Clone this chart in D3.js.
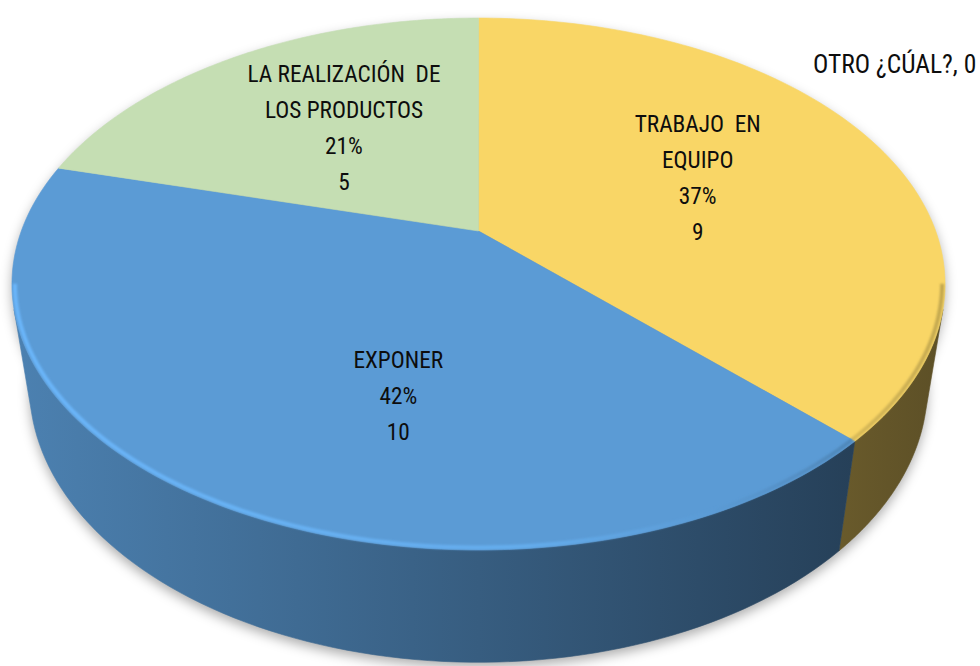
<!DOCTYPE html>
<html><head><meta charset="utf-8">
<script src="https://cdn.jsdelivr.net/npm/d3@7"></script>
<style>body{margin:0;background:#fff;overflow:hidden}</style>
</head><body>
<svg id="chart" width="980" height="666"></svg>
<script>
// ---- data ----
const categories = ["TRABAJO EN EQUIPO", "EXPONER", "LA REALIZACIÓN DE LOS PRODUCTOS", "OTRO ¿CÚAL?"];
const values = [9, 10, 5, 0];
const percentLabels = ["37%", "42%", "21%", "0%"];
const labelLines = [["TRABAJO  EN", "EQUIPO"], ["EXPONER"], ["LA REALIZACIÓN  DE", "LOS PRODUCTOS"], ["OTRO ¿CÚAL?"]];
const colors = ["#F9D666", "#5B9BD5", "#C5DEB3", "#ED7D31"];

// ---- layout (positions / styles) ----
const W = 980, H = 666;
const cx = 478.5, cy = 231;
const sinA = 0.5586, cosA = 0.8294, Dist = 4.162, F = 1902.8, thick = 0.28;
const labelAnchor = [[66.6, 0.545], [195.2, 0.593], [323.9, 0.543], null]; // [deg, radius fraction]
const outsideLabel = {x: 813, y: 73};
const lineH = 36.3, fontSize = 23.3, outsideFontSize = 25.5;
const fontFam = "'Liberation Sans Narrow','Arial Narrow','Roboto Condensed',sans-serif";

const svg = d3.select("#chart");
const defs = svg.append("defs");

function proj(theta, rho, y3) {
  const x3 = rho * Math.sin(theta), z3 = -rho * Math.cos(theta);
  const dep = Dist - y3 * sinA - z3 * cosA;
  const up = y3 * cosA - z3 * sinA;
  return [cx + F * x3 / dep, cy - F * up / dep];
}
const rim = (a0, a1, rho, y3, n) => d3.range(n + 1).map(i => proj(a0 + (a1 - a0) * i / n, rho, y3));
const line = d3.line();
const closed = d3.line().curve(d3.curveLinearClosed);

const data = categories.map((c, i) => ({c, v: values[i], i}));
const arcs = d3.pie().sort(null).value(d => d.v).startAngle(0).endAngle(2 * Math.PI)(data);
const color = d3.scaleOrdinal().domain(categories).range(colors);

// filters
defs.append("filter").attr("id", "shadow").attr("x", "-10%").attr("y", "-10%").attr("width", "120%").attr("height", "130%")
  .append("feGaussianBlur").attr("stdDeviation", 6);
defs.append("filter").attr("id", "soft").attr("x", "-5%").attr("y", "-5%").attr("width", "110%").attr("height", "110%")
  .append("feGaussianBlur").attr("stdDeviation", 1.2);

// shadow
const shadowG = svg.append("g").attr("transform", "translate(0,5)").attr("filter", "url(#shadow)");
shadowG.append("path").attr("d", closed(rim(0, 2 * Math.PI, 1, -thick, 240))).attr("fill", "rgba(0,0,0,0.32)");
shadowG.append("path").attr("d", closed(rim(0, 2 * Math.PI, 1, 0, 240))).attr("fill", "rgba(0,0,0,0.32)");

// walls
const visStart = Math.acos(-1 / (Dist * cosA)), visEnd = 2 * Math.PI - visStart;
arcs.forEach(a => {
  const lo = Math.max(a.startAngle, visStart), hi = Math.min(a.endAngle, visEnd);
  if (hi <= lo) return;
  const base = d3.rgb(color(a.data.c));
  const g = defs.append("linearGradient").attr("id", "wall" + a.index)
    .attr("gradientUnits", "userSpaceOnUse").attr("x1", 12).attr("x2", 945).attr("y1", 0).attr("y2", 0);
  [[0, 0.83], [1, 0.37]].forEach(([o, f]) => g.append("stop").attr("offset", o)
    .attr("stop-color", d3.rgb(base.r * f, base.g * f, base.b * f).formatHex()));
  const pts = rim(lo, hi, 1, 0, 80).concat(rim(hi, lo, 1, -thick, 80));
  svg.append("path").attr("d", closed(pts)).attr("fill", `url(#wall${a.index})`)
    .attr("stroke", `url(#wall${a.index})`).attr("stroke-width", 0.6);
});

// top faces
arcs.forEach(a => {
  if (a.endAngle - a.startAngle <= 0) return;
  const pts = [proj(0, 0, 0)].concat(rim(a.startAngle, a.endAngle, 1, 0, 120));
  svg.append("path").attr("d", closed(pts)).attr("fill", color(a.data.c))
    .attr("stroke", color(a.data.c)).attr("stroke-width", 0.6);
});

// bevel on the front rim, coloured per slice
const wideA = Math.acos(-0.1993), wideB = 2 * Math.PI - wideA;
arcs.forEach(a => {
  const lo = Math.max(a.startAngle, wideA), hi = Math.min(a.endAngle, wideB);
  if (hi <= lo) return;
  const base = d3.rgb(color(a.data.c));
  const g = defs.append("linearGradient").attr("id", "bev" + a.index)
    .attr("gradientUnits", "userSpaceOnUse").attr("x1", 12).attr("x2", 945).attr("y1", 0).attr("y2", 0);
  [[0, base.brighter(0.45)], [0.55, base.brighter(0.3)], [0.75, base], [1, base.darker(0.7)]]
    .forEach(([o, c]) => g.append("stop").attr("offset", o).attr("stop-color", c.formatHex()));
  svg.append("path").attr("d", line(rim(lo, hi, 0.994, 0, 100)))
    .attr("fill", "none").attr("stroke", `url(#bev${a.index})`).attr("stroke-width", 4)
    .attr("filter", "url(#soft)");
});

// labels
const lab = svg.append("g").attr("font-family", fontFam).attr("font-size", fontSize).attr("fill", "#0d0d0d");
arcs.forEach(a => {
  const anc = labelAnchor[a.index];
  if (!anc) return;
  const [px, py] = proj(anc[0] * Math.PI / 180, anc[1], 0);
  const lines = labelLines[a.index].concat([percentLabels[a.index], String(a.data.v)]);
  const t = lab.append("text").attr("text-anchor", "middle").style("white-space", "pre");
  lines.forEach((s, j) => t.append("tspan").attr("x", px)
    .attr("y", py + (j - (lines.length - 1) / 2) * lineH + 8).text(s));
});
arcs.filter(a => labelAnchor[a.index] === null).forEach(a => {
  lab.append("text").attr("x", outsideLabel.x).attr("y", outsideLabel.y).attr("text-anchor", "start")
    .attr("font-size", outsideFontSize)
    .text(labelLines[a.index][0] + ", " + a.data.v);
});
</script>
</body></html>
